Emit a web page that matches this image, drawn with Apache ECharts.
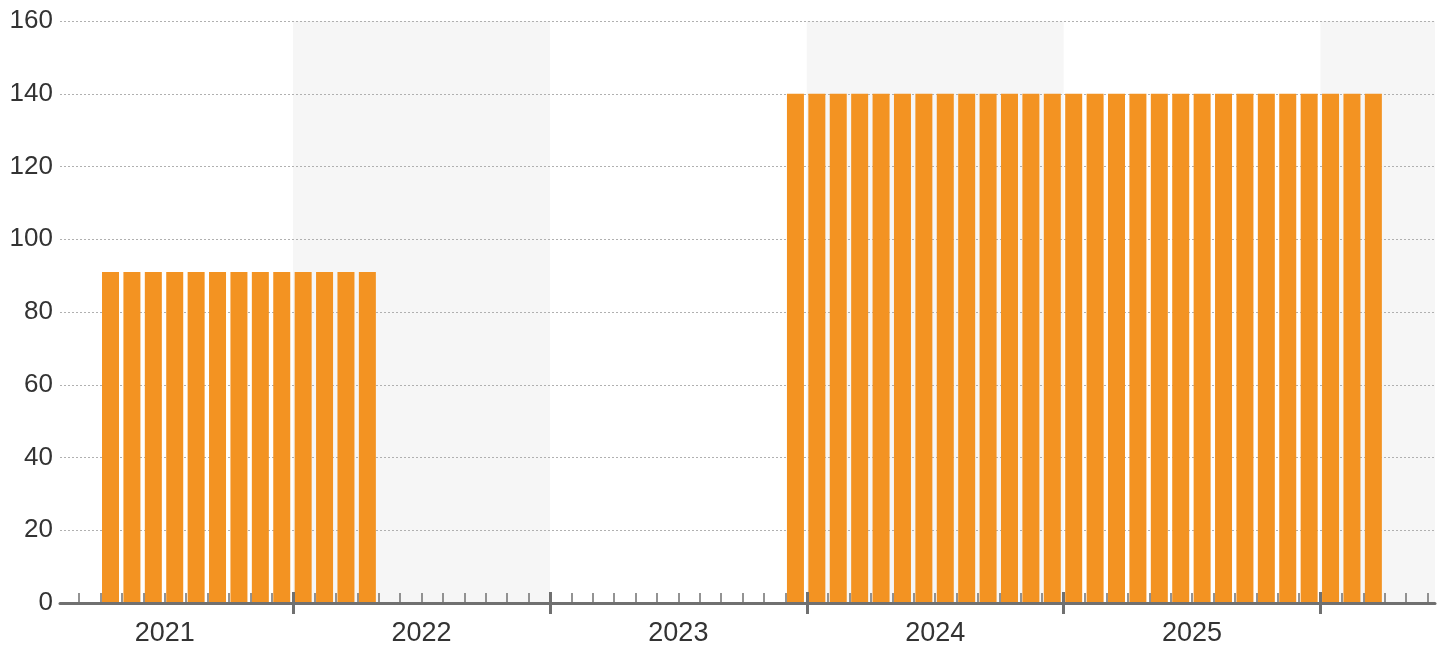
<!DOCTYPE html>
<html>
<head>
<meta charset="utf-8">
<script src="https://cdn.jsdelivr.net/npm/echarts@6/dist/echarts.min.js"></script>
<style>
  html, body { margin: 0; padding: 0; background: #ffffff; }
  #chart { width: 1443px; height: 647px; }
</style>
</head>
<body>
<div id="chart"></div>
<script>
// Monthly observations (year-month) and their values
const months = [
  '2021-04', '2021-05', '2021-06', '2021-07', '2021-08', '2021-09', '2021-10',
  '2021-11', '2021-12', '2022-01', '2022-02', '2022-03', '2022-04',
  '2023-12',
  '2024-01', '2024-02', '2024-03', '2024-04', '2024-05', '2024-06',
  '2024-07', '2024-08', '2024-09', '2024-10', '2024-11', '2024-12',
  '2025-01', '2025-02', '2025-03', '2025-04', '2025-05', '2025-06',
  '2025-07', '2025-08', '2025-09', '2025-10', '2025-11', '2025-12',
  '2026-01', '2026-02', '2026-03'
];
const values = [
  91, 91, 91, 91, 91, 91, 91,
  91, 91, 91, 91, 91, 91,
  140,
  140, 140, 140, 140, 140, 140,
  140, 140, 140, 140, 140, 140,
  140, 140, 140, 140, 140, 140,
  140, 140, 140, 140, 140, 140,
  140, 140, 140
];

// Year labels along the time axis and the years that get a shaded band
const yearLabels = ['2021', '2022', '2023', '2024', '2025'];
const shadedYears = ['2022', '2024', '2026'];

// Visible time window (months since Jan 2021)
const xMin = 1.11;
const xMax = 65.35;
const baseYear = 2021;

function monthIndex(ym) {
  const [y, m] = ym.split('-').map(Number);
  return (y - baseYear) * 12 + (m - 1);
}

const barData = months.map((ym, i) => [monthIndex(ym) + 0.47, values[i]]);

// Ticks: one per month boundary, a heavier one at each new year
const minorTicks = [];
for (let t = Math.ceil(xMin); t <= xMax; t++) if (t % 12 !== 0) minorTicks.push(t);
const majorTicks = [];
for (let t = 12; t <= xMax; t += 12) majorTicks.push(t);
const labelPositions = yearLabels.map((y) => (Number(y) - baseYear) * 12 + 6);

const bands = shadedYears.map((y) => {
  const s = (Number(y) - baseYear) * 12;
  return [{ xAxis: s }, { xAxis: Math.min(s + 12, xMax) }];
});

const axisColor = '#707070';
const textColor = '#333333';
const fontFamily = '"Liberation Sans", Arial, Helvetica, sans-serif';

const chart = echarts.init(document.getElementById('chart'), null, { renderer: 'canvas' });

chart.setOption({
  animation: false,
  backgroundColor: '#ffffff',
  grid: { left: 60, right: 8, top: 21, bottom: 44, containLabel: false },
  xAxis: [
    {
      type: 'value',
      min: xMin,
      max: xMax,
      position: 'bottom',
      z: 3,
      axisLine: { show: true, lineStyle: { color: axisColor, width: 3 } },
      axisTick: {
        show: true,
        inside: true,
        length: 10,
        customValues: minorTicks,
        lineStyle: { color: axisColor, width: 1.5 }
      },
      axisLabel: {
        show: true,
        customValues: labelPositions,
        formatter: (v) => yearLabels[Math.round((v - 6) / 12)],
        color: textColor,
        fontSize: 27,
        fontFamily: fontFamily,
        margin: 17
      },
      splitLine: { show: false }
    },
    {
      type: 'value',
      min: xMin,
      max: xMax,
      position: 'bottom',
      offset: 11,
      z: 3,
      axisLine: { show: false },
      axisTick: {
        show: true,
        inside: true,
        length: 22,
        customValues: majorTicks,
        lineStyle: { color: axisColor, width: 3 }
      },
      axisLabel: { show: false },
      splitLine: { show: false }
    }
  ],
  yAxis: {
    type: 'value',
    min: 0,
    max: 160,
    interval: 20,
    z: 1,
    axisLine: { show: false },
    axisTick: { show: false },
    axisLabel: {
      color: textColor,
      fontSize: 26,
      fontFamily: fontFamily,
      margin: 7
    },
    splitLine: {
      show: true,
      lineStyle: { color: '#b0b0b0', type: [2, 2], width: 1 }
    }
  },
  series: [
    {
      type: 'line',
      data: [],
      z: -2,
      silent: true,
      markArea: {
        silent: true,
        z: -2,
        itemStyle: { color: '#f6f6f6' },
        data: bands
      }
    },
    {
      type: 'bar',
      xAxisIndex: 0,
      data: barData,
      barWidth: 17,
      itemStyle: { color: '#f39322' },
      z: 2
    }
  ]
});
</script>
</body>
</html>
